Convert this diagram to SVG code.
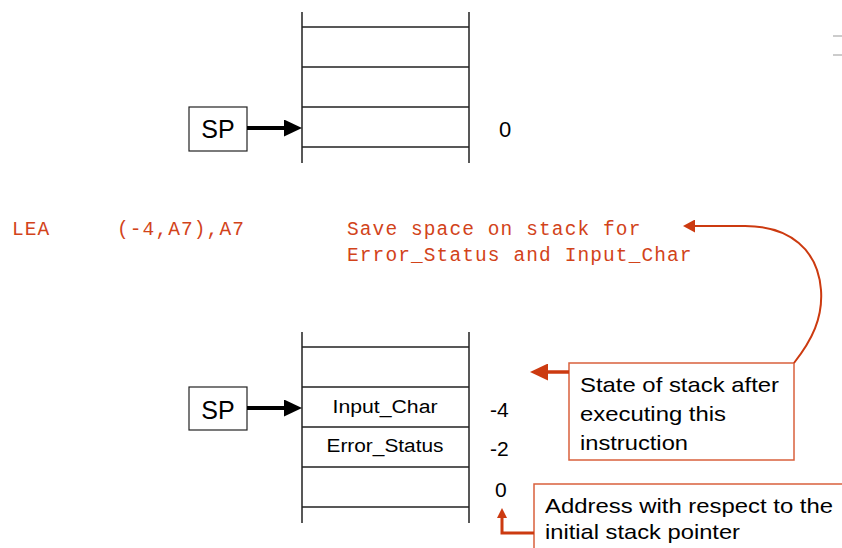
<svg xmlns="http://www.w3.org/2000/svg" width="842" height="548" viewBox="0 0 842 548">
<style>
.stk{stroke:#222;stroke-width:1.5;fill:none}
.box{fill:#fff;stroke:#222;stroke-width:1.2}
.note{fill:#fff;stroke:#D9603C;stroke-width:1.5}
.sans{font-family:"Liberation Sans",Arial,sans-serif;fill:#000}
.code{font-family:"Liberation Mono","Courier New",monospace;font-size:19.5px;letter-spacing:1.1px;fill:#D2431A}
.blk{stroke:#000;stroke-width:4;fill:none}
.red{stroke:#CC3A10;fill:none}
</style>
<defs>
<marker id="ahB" markerUnits="userSpaceOnUse" markerWidth="18" markerHeight="17" viewBox="0 0 18 17" refX="0" refY="8.5" orient="auto"><path d="M0,0 L18,8.5 L0,17 z" fill="#000"/></marker>
<marker id="ahR" markerUnits="userSpaceOnUse" markerWidth="18" markerHeight="17" viewBox="0 0 18 17" refX="0" refY="8.5" orient="auto"><path d="M0,0 L18,8.5 L0,17 z" fill="#CC3A10"/></marker>
<marker id="ahRs" markerUnits="userSpaceOnUse" markerWidth="12" markerHeight="13" viewBox="0 0 12 13" refX="0" refY="6.5" orient="auto"><path d="M0,0 L12,6.5 L0,13 z" fill="#CC3A10"/></marker>
<marker id="ahRt" markerUnits="userSpaceOnUse" markerWidth="10" markerHeight="10" viewBox="0 0 10 10" refX="0" refY="5" orient="auto"><path d="M0,0 L10,5 L0,10 z" fill="#CC3A10"/></marker>
</defs>
<rect width="842" height="548" fill="#fff"/>
<g id="marks" stroke="#999" stroke-width="1"><line x1="833" y1="36" x2="842" y2="36"/><line x1="833" y1="55" x2="842" y2="55"/></g>
<g id="top-stack">
<path class="stk" d="M302,12 V163 M469,12 V163 M302,27 H469 M302,67 H469 M302,107 H469 M302,147 H469"/>
<text class="sans" x="499" y="137" font-size="22">0</text>
</g>
<g id="sp-top">
<rect class="box" x="189" y="107" width="58" height="44"/>
<text class="sans" x="218" y="138" font-size="25" text-anchor="middle">SP</text>
</g>
<g id="code">
<text class="code" x="12" y="235">LEA</text>
<text class="code" x="117" y="235">(-4,A7),A7</text>
<text class="code" x="347" y="235">Save space on stack for</text>
<text class="code" x="347" y="261">Error_Status and Input_Char</text>
</g>
<g id="bottom-stack">
<path class="stk" d="M302,332 V523 M469,332 V523 M302,347 H469 M302,387 H469 M302,427 H469 M302,467 H469 M302,507 H469"/>
<text class="sans" x="385" y="413" font-size="18" text-anchor="middle" textLength="105" lengthAdjust="spacingAndGlyphs">Input_Char</text>
<text class="sans" x="385" y="452" font-size="18" text-anchor="middle" textLength="117" lengthAdjust="spacingAndGlyphs">Error_Status</text>
<text class="sans" x="490" y="417" font-size="21">-4</text>
<text class="sans" x="490" y="456" font-size="21">-2</text>
<text class="sans" x="495" y="497" font-size="21">0</text>
</g>
<g id="sp-bottom">
<rect class="box" x="189" y="387" width="58" height="43"/>
<text class="sans" x="218" y="419" font-size="25" text-anchor="middle">SP</text>
</g>
<g id="note-state">
<rect class="note" x="569" y="363" width="225" height="97"/>
<text class="sans" x="580" y="392" font-size="21" textLength="199" lengthAdjust="spacingAndGlyphs">State of stack after</text>
<text class="sans" x="580" y="421" font-size="21" textLength="146" lengthAdjust="spacingAndGlyphs">executing this</text>
<text class="sans" x="580" y="450" font-size="21" textLength="108" lengthAdjust="spacingAndGlyphs">instruction</text>
</g>
<g id="note-address">
<rect class="note" x="534" y="484" width="330" height="80"/>
<text class="sans" x="545" y="513" font-size="21" textLength="288" lengthAdjust="spacingAndGlyphs">Address with respect to the</text>
<text class="sans" x="545" y="539" font-size="21" textLength="195" lengthAdjust="spacingAndGlyphs">initial stack pointer</text>
</g>
<g id="connectors">
<line class="blk" x1="247" y1="128" x2="284" y2="128" marker-end="url(#ahB)"/>
<line class="blk" x1="247" y1="408" x2="284" y2="408" marker-end="url(#ahB)"/>
<line class="red" stroke-width="3.5" x1="569" y1="372" x2="548" y2="372" marker-end="url(#ahR)"/>
<path class="red" stroke-width="2" d="M794,363 C812,340 823,318 821,290 C818,250 790,226 745,226 L695,226" marker-end="url(#ahRs)"/>
<path class="red" stroke-width="3" d="M534,533 H502 V518" marker-end="url(#ahRt)"/>
</g>
</svg>
